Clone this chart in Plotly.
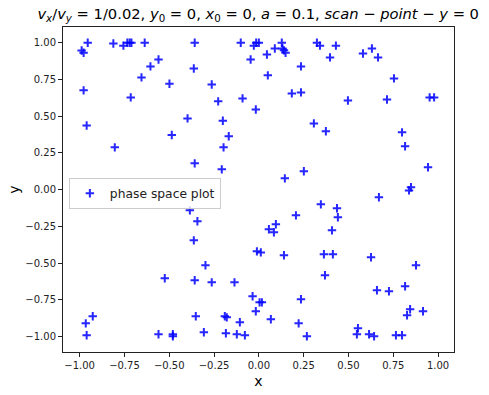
import plotly.graph_objects as go

x_vals = [
    -0.955, -0.812, -0.756, -0.734, -0.721, -0.711, -0.637, -0.358, -0.101, -0.028,
    -0.015, 0.0, -0.989, -0.978, -0.046, -0.56, -0.605, -0.363, -0.655, -0.499,
    -0.263, -0.978, -0.715, -0.091, -0.227, -0.017, -0.398, -0.201, -0.961, -0.168,
    -0.486, -0.804, -0.197, -0.358, -0.207,
    0.128, 0.132, 0.14, 0.149, 0.089, 0.045, 0.324, 0.341, 0.43, 0.397,
    0.581, 0.631, 0.665, 0.235, 0.05, 0.754, 0.184, 0.235, 0.497, 0.715,
    0.953, 0.978, 0.307, 0.374, 0.799, 0.816, 0.944, 0.251, 0.145, 0.849, 0.838,
    -0.385, -0.343, -0.363, -0.011, -0.298, -0.525, -0.358, -0.263, -0.136, -0.035,
    0.004, -0.017, -0.927, -0.966, -0.352, -0.19, -0.179, -0.106, -0.961, -0.56,
    -0.48, -0.48, -0.307, -0.184, -0.123, -0.078,
    0.67, 0.346, 0.436, 0.441, 0.207, 0.056, 0.084, 0.095, 0.408, 0.011,
    0.14, 0.363, 0.413, 0.626, 0.877, 0.369, 0.816, 0.659, 0.726, 0.235,
    0.017, 0.844, 0.827, 0.916, 0.067, 0.222, 0.553, 0.547, 0.615, 0.643,
    0.268, 0.765, 0.799,
]
y_vals = [
    1.0, 0.995, 0.98, 1.0, 1.0, 1.0, 1.0, 1.0, 1.0, 0.98,
    1.0, 1.0, 0.947, 0.932, 0.886, 0.886, 0.839, 0.825, 0.764, 0.721,
    0.716, 0.676, 0.628, 0.621, 0.601, 0.546, 0.485, 0.469, 0.437, 0.363,
    0.372, 0.288, 0.288, 0.179, 0.138,
    1.0, 0.961, 0.948, 0.932, 0.961, 0.92, 1.0, 0.98, 0.98, 0.9,
    0.927, 0.961, 0.9, 0.839, 0.778, 0.757, 0.655, 0.662, 0.607, 0.614,
    0.628, 0.628, 0.451, 0.397, 0.39, 0.295, 0.152, 0.125, 0.077, 0.016, -0.005,
    -0.141, -0.215, -0.345, -0.42, -0.515, -0.603, -0.617, -0.631, -0.631, -0.726,
    -0.767, -0.828, -0.862, -0.91, -0.862, -0.862, -0.869, -0.903, -0.991, -0.984,
    -0.984, -0.998, -0.971, -0.977, -0.984, -0.991,
    -0.052, -0.1, -0.127, -0.188, -0.175, -0.27, -0.29, -0.236, -0.277, -0.427,
    -0.447, -0.44, -0.44, -0.46, -0.515, -0.583, -0.658, -0.685, -0.692, -0.746,
    -0.767, -0.814, -0.855, -0.828, -0.882, -0.91, -0.943, -0.984, -0.984, -0.998,
    -0.998, -0.991, -0.991,
]

x_ticks = [-1.0, -0.75, -0.5, -0.25, 0.0, 0.25, 0.5, 0.75, 1.0]
y_ticks = [-1.0, -0.75, -0.5, -0.25, 0.0, 0.25, 0.5, 0.75, 1.0]

title_text = ("<i>v</i><sub><i>x</i></sub>/<i>v</i><sub><i>y</i></sub> = 1/0.02, "
              "<i>y</i><sub>0</sub> = 0, <i>x</i><sub>0</sub> = 0, <i>a</i> = 0.1, "
              "<i>scan</i> − <i>point</i> − <i>y</i> = 0")

fig = go.Figure()
fig.add_trace(go.Scatter(
    x=x_vals, y=y_vals, mode="markers", name="phase space plot",
    marker=dict(symbol="cross-thin", size=6,
                line=dict(width=2, color="rgba(0,0,255,0.85)"),
                color="rgba(0,0,255,0.85)"),
))

font_family = "DejaVu Sans"
axis_common = dict(
    showgrid=False, zeroline=False, showline=True, linecolor="#222",
    linewidth=1, mirror=True, ticks="outside", ticklen=4, tickwidth=1,
    tickcolor="#222", tickformat=".2f", automargin=False,
    tickfont=dict(family=font_family, size=10, color="#222"),
)
fig.update_layout(
    width=489, height=395,
    margin=dict(l=63, r=35, t=27, b=43),
    paper_bgcolor="white", plot_bgcolor="white",
    title=dict(text=title_text, x=0.528, xanchor="center", y=0.965, yanchor="middle",
               automargin=False,
               font=dict(family=font_family, size=14.7, color="black")),
    xaxis=dict(range=[-1.093, 1.089], tickvals=x_ticks,
               title=dict(text="x", font=dict(family=font_family, size=14, color="black"), standoff=6),
               **axis_common),
    yaxis=dict(range=[-1.105, 1.107], tickvals=y_ticks,
               title=dict(text="y", font=dict(family=font_family, size=14, color="black"), standoff=2),
               **axis_common),
    legend=dict(x=0.015, y=0.536, xanchor="left", yanchor="top",
                bgcolor="rgba(255,255,255,0.8)", bordercolor="#ccc", borderwidth=1,
                font=dict(family=font_family, size=12.3, color="#222")),
    showlegend=True,
)

fig.write_html("out.html", config={"displayModeBar": False},
               post_script="document.body.style.margin='0';document.body.style.overflow='hidden';")
